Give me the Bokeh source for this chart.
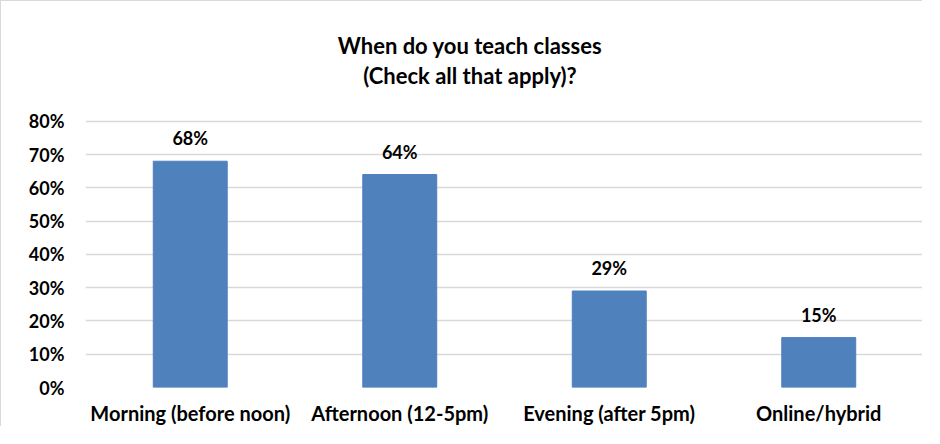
from bokeh.plotting import figure
from bokeh.models import ColumnDataSource, LabelSet, Label, NumeralTickFormatter, FixedTicker
from bokeh.core.properties import value
from bokeh.embed import file_html
from bokeh.resources import INLINE

categories = ["Morning (before noon)", "Afternoon (12-5pm)", "Evening (after 5pm)", "Online/hybrid"]
values = [0.68, 0.64, 0.29, 0.15]
value_labels = ["68%", "64%", "29%", "15%"]
y_ticks = [0, 0.1, 0.2, 0.3, 0.4, 0.5, 0.6, 0.7, 0.8]
title_lines = ["When do you teach classes", "(Check all that apply)?"]

FONT = "Lato"
src = ColumnDataSource(dict(cat=categories, val=values, lab=value_labels))

# the frame extends above 80% so the title can sit inside it; grid/ticks stop at 80%
p = figure(x_range=categories, y_range=(0, 1.16), width=922, height=426,
           output_backend="svg", toolbar_location=None,
           min_border_left=84, min_border_right=0, min_border_top=0, min_border_bottom=36)
p.styles = {"border-top": "1px solid #d9d9d9", "border-left": "1px solid #d9d9d9"}
p.outline_line_color = None
p.vbar(x="cat", top="val", width=0.353, source=src, color="#4F81BD")

p.yaxis.ticker = FixedTicker(ticks=y_ticks)
p.yaxis.formatter = NumeralTickFormatter(format="0%")
for ax in (p.xaxis, p.yaxis):
    ax.axis_line_color = None
    ax.major_tick_line_color = None
    ax.minor_tick_line_color = None
    ax.major_tick_out = 0
    ax.major_tick_in = 0
    ax.minor_tick_out = 0
    ax.major_label_text_font = FONT
    ax.major_label_text_font_style = "bold"
    ax.major_label_text_color = "black"
p.yaxis.major_label_text_font_size = "18px"
p.xaxis.major_label_text_font_size = "20px"
p.yaxis.major_label_standoff = 21
p.xaxis.major_label_standoff = 13
p.xgrid.grid_line_color = None
p.ygrid.grid_line_color = "#d9d9d9"
p.ygrid.grid_line_width = 1.5

labels = LabelSet(x="cat", y="val", text="lab", source=src, text_align="center",
                  text_baseline="bottom", y_offset=12, text_font=value(FONT),
                  text_font_style="bold", text_font_size="18px", text_color="black")
p.add_layout(labels)

for t, ty in zip(title_lines, [1.029, 0.937]):
    p.add_layout(Label(x=1.835, y=ty, text=t, text_align="center", text_baseline="middle",
                       text_font=FONT, text_font_style="bold", text_font_size="22px",
                       text_color="black"))

open("out.html", "w").write(file_html(p, INLINE))
